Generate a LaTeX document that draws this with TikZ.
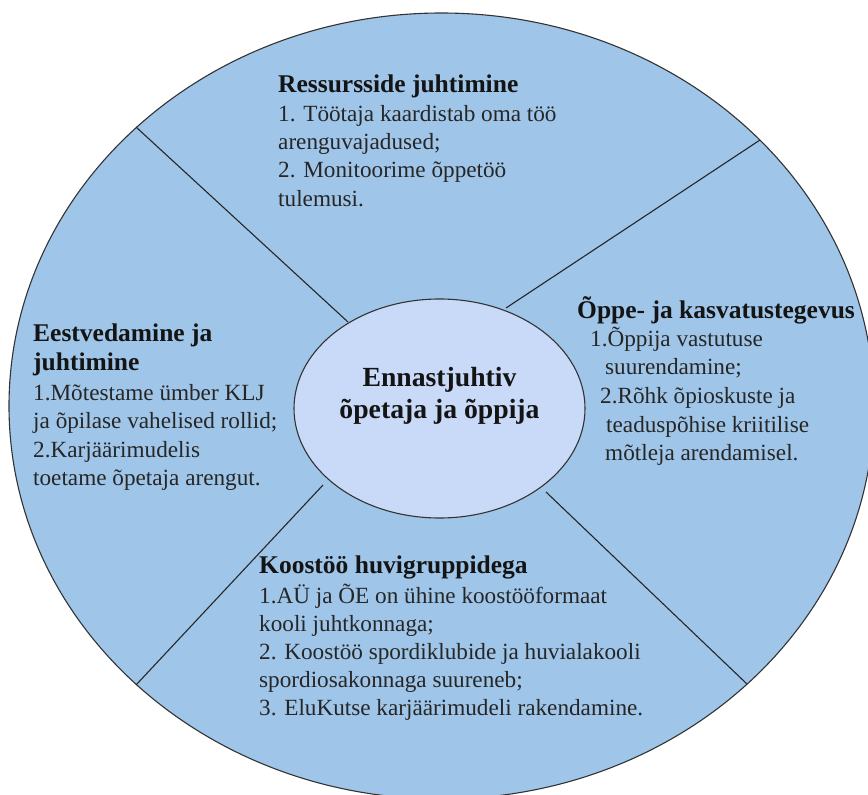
\documentclass[tikz,border=0pt]{standalone}
\usepackage{fontspec}
\setmainfont{Liberation Serif}
\usetikzlibrary{shapes.geometric}
\definecolor{outerblue}{HTML}{9FC5E8}
\definecolor{innerblue}{HTML}{C9DAF8}
\tikzset{
  ring/.style={ellipse, draw=black!80, line width=1.1pt, inner sep=0pt},
  divider/.style={draw=black!85, line width=1.1pt},
  ttl/.style={anchor=base west, inner sep=0pt, text=black!92,
    font=\fontsize{25.5}{30}\selectfont\bfseries},
  bdy/.style={anchor=base west, inner sep=0pt, text=black!85,
    font=\fontsize{23.2}{29}\selectfont},
  ctr/.style={anchor=base, inner sep=0pt, text=black!92,
    font=\fontsize{27.7}{32}\selectfont\bfseries}
}
\begin{document}
\begin{tikzpicture}[x=1pt,y=-1pt]
\clip (0,0) rectangle (868,795);
\fill[white] (0,0) rectangle (868,795);
% outer ring
\node[ring, fill=outerblue, minimum width=865pt, minimum height=786pt] (outer) at (441.5,406) {};
% dividers
\coordinate (ula) at (348,322);  \coordinate (ulb) at (136,127);
\coordinate (ura) at (506,308);  \coordinate (urb) at (760,140);
\coordinate (lla) at (323,485);  \coordinate (llb) at (136,685);
\coordinate (lra) at (546,492);  \coordinate (lrb) at (747,684);
\draw[divider] (ula) -- (ulb);
\draw[divider] (ura) -- (urb);
\draw[divider] (lla) -- (llb);
\draw[divider] (lra) -- (lrb);
% inner ellipse
\node[ring, fill=innerblue, minimum width=291pt, minimum height=219pt] (inner) at (439.5,408.5) {};
\node[ctr] (c1) at (439.5,386) {Ennastjuhtiv};
\node[ctr] (c2) at (439.5,418) {õpetaja ja õppija};
% top block
\node[ttl] (t0) at (278,92) {Ressursside juhtimine};
\node[bdy] (t1) at (278,121) {1. Töötaja kaardistab oma töö};
\node[bdy] (t2) at (278,149) {arenguvajadused;};
\node[bdy] (t3) at (278,177) {2. Monitoorime õppetöö};
\node[bdy] (t4) at (278,206) {tulemusi.};
% left block
\node[ttl] (l0) at (33,341) {Eestvedamine ja};
\node[ttl] (l1) at (33,370) {juhtimine};
\node[bdy] (l2) at (33,400) {1.Mõtestame ümber KLJ};
\node[bdy] (l3) at (33,428) {ja õpilase vahelised rollid;};
\node[bdy] (l4) at (33,457) {2.Karjäärimudelis};
\node[bdy] (l5) at (33,485) {toetame õpetaja arengut.};
% right block
\node[ttl] (r0) at (577,318) {Õppe- ja kasvatustegevus};
\node[bdy] (r1) at (590,346) {1.Õppija vastutuse};
\node[bdy] (r2) at (605,374) {suurendamine;};
\node[bdy] (r3) at (600,403) {2.Rõhk õpioskuste ja};
\node[bdy] (r4) at (606,432) {teaduspõhise kriitilise};
\node[bdy] (r5) at (605,460) {mõtleja arendamisel.};
% bottom block
\node[ttl] (b0) at (259,573) {Koostöö huvigruppidega};
\node[bdy] (b1) at (259,603) {1.AÜ ja ÕE on ühine koostööformaat};
\node[bdy] (b2) at (259,631) {kooli juhtkonnaga;};
\node[bdy] (b3) at (259,659) {2. Koostöö spordiklubide ja huvialakooli};
\node[bdy] (b4) at (259,687) {spordiosakonnaga suureneb;};
\node[bdy] (b5) at (259,715) {3. EluKutse karjäärimudeli rakendamine.};
\end{tikzpicture}
\end{document}
